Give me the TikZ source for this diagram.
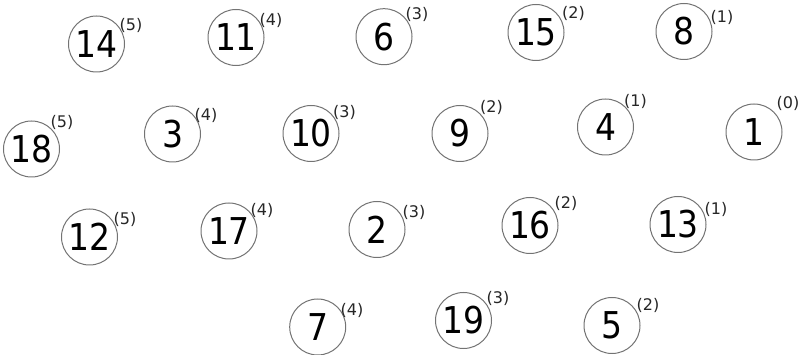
\documentclass[tikz,border=0pt]{standalone}
\usepackage{fontspec}
\setmainfont{DejaVu Sans}
\newcommand{\vnum}[1]{\scalebox{1}[1.12]{#1}}
\begin{document}
\begin{tikzpicture}[x=1pt,y=-1pt,
  vtx/.style={circle, draw=black!55, line width=1pt, minimum size=56pt, inner sep=0pt, font=\fontsize{33}{33}\selectfont},
  rank/.style={inner sep=0pt, font=\fontsize{16}{16}\selectfont, text=black!85}]
\useasboundingbox (0,0) rectangle (801,355);
% row 1
\node[vtx] (n14) at (96.5,44) {\vnum{14}};
\node[rank] (r14) at (131,25) {(5)};
\node[vtx] (n11) at (236,37.5) {\vnum{11}};
\node[rank] (r11) at (271,20) {(4)};
\node[vtx] (n6) at (384,36.7) {\vnum{6}};
\node[rank] (r6) at (417,14.5) {(3)};
\node[vtx] (n15) at (536,32.5) {\vnum{15}};
\node[rank] (r15) at (573.5,13.7) {(2)};
\node[vtx] (n8) at (684,31.5) {\vnum{8}};
\node[rank] (r8) at (722,17.5) {(1)};
% row 2
\node[vtx] (n18) at (31.5,149) {\vnum{18}};
\node[rank] (r18) at (62,122) {(5)};
\node[vtx] (n3) at (172.5,134) {\vnum{3}};
\node[rank] (r3) at (206,115) {(4)};
\node[vtx] (n10) at (311,133.5) {\vnum{10}};
\node[rank] (r10) at (344.5,112.5) {(3)};
\node[vtx] (n9) at (460,133.5) {\vnum{9}};
\node[rank] (r9) at (491.5,107.5) {(2)};
\node[vtx] (n4) at (605.5,127) {\vnum{4}};
\node[rank] (r4) at (635.5,101.7) {(1)};
\node[vtx] (n1) at (754,132) {\vnum{1}};
\node[rank] (r1) at (788,103) {(0)};
% row 3
\node[vtx] (n12) at (89.5,237) {\vnum{12}};
\node[rank] (r12) at (125,219.5) {(5)};
\node[vtx] (n17) at (229,231) {\vnum{17}};
\node[rank] (r17) at (262,210.5) {(4)};
\node[vtx] (n2) at (377,229.5) {\vnum{2}};
\node[rank] (r2) at (414,212) {(3)};
\node[vtx] (n16) at (530,225.5) {\vnum{16}};
\node[rank] (r16) at (566,203) {(2)};
\node[vtx] (n13) at (678,224.5) {\vnum{13}};
\node[rank] (r13) at (716,209.5) {(1)};
% row 4
\node[vtx] (n7) at (317.7,327) {\vnum{7}};
\node[rank] (r7) at (352,310) {(4)};
\node[vtx] (n19) at (463.5,320.5) {\vnum{19}};
\node[rank] (r19) at (498,298.5) {(3)};
\node[vtx] (n5) at (612,325.5) {\vnum{5}};
\node[rank] (r5) at (648,305) {(2)};
\end{tikzpicture}
\end{document}
